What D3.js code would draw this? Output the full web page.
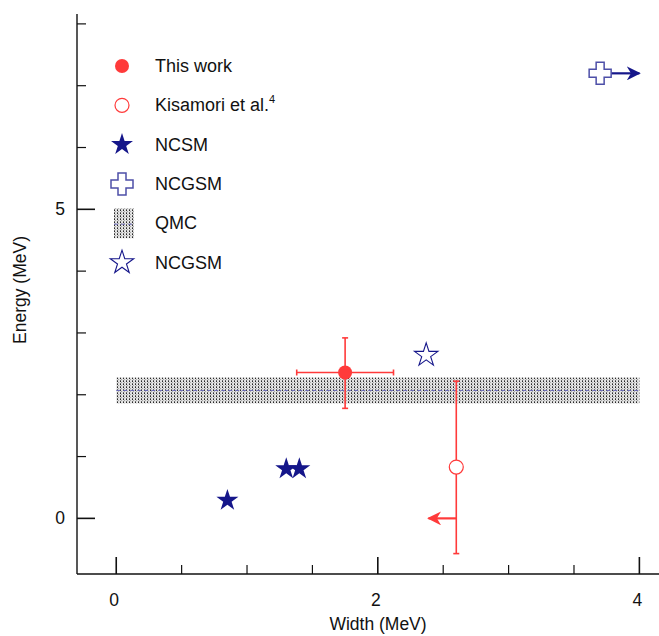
<!DOCTYPE html>
<meta charset="utf-8">
<script src="https://d3js.org/d3.v7.min.js"></script>
<style>
  body { margin: 0; background: #fff; }
  text { font-family: "Liberation Sans", Arial, sans-serif; fill: #111; }
</style>
<body>
<script>
// Chart data
const thisWork = [{w: 1.75, e: 2.36, wLo: 1.38, wHi: 2.12, eLo: 1.78, eHi: 2.92}];
const kisamori = [{w: 2.60, e: 0.83, eLo: -0.57, eHi: 2.22, wLimit: 2.38, limitE: 0}];
const ncsm = [{w: 0.85, e: 0.29}, {w: 1.30, e: 0.80}, {w: 1.40, e: 0.80}];
const ncgsmCross = [{w: 3.70, e: 7.20, wArrow: 4.0}];
const qmc = [{wFrom: 0, wTo: 4, eLo: 1.86, eHi: 2.28, eMid: 2.07}];
const ncgsmStar = [{w: 2.37, e: 2.64}];
const xMajor = [0, 2, 4];
const xMinor = [0.5, 1, 1.5, 2.5, 3, 3.5];
const yMajor = [0, 5];
const yMinor = [1, 2, 3, 4, 6, 7, 8];
const legendLabels = ["This work", "Kisamori et al.", "NCSM", "NCGSM", "QMC", "NCGSM"];

const W = 659, H = 636;
const red = "#ff3a3a", navy = "#15168a", lightNavy = "#4d4fa8";
const fs = "17.5px";

const svg = d3.select("body").append("svg").attr("width", W).attr("height", H);

// Scales
const x = d3.scaleLinear().domain([-0.3, 4.15]).range([77, 659]);
const y = d3.scaleLinear().domain([-0.9, 8.16]).range([574, 14]);

// Pattern for QMC band
const defs = svg.append("defs");
const pat = defs.append("pattern").attr("id", "dots")
  .attr("width", 3).attr("height", 3).attr("patternUnits", "userSpaceOnUse");
pat.append("rect").attr("width", 3).attr("height", 3).attr("fill", "#e2e2e2");
pat.append("rect").attr("width", 1).attr("height", 1).attr("fill", "#2a2a2a");
pat.append("rect").attr("x", 1).attr("y", 1).attr("width", 1).attr("height", 1).attr("fill", "#a8a8a8");
pat.append("rect").attr("x", 0).attr("y", 2).attr("width", 1).attr("height", 1).attr("fill", "#6a6a6a");

defs.append("marker").attr("id", "arrRed").attr("viewBox", "0 0 10 10")
  .attr("refX", 9).attr("refY", 5).attr("markerWidth", 14).attr("markerHeight", 14)
  .attr("markerUnits", "userSpaceOnUse").attr("orient", "auto")
  .append("path").attr("d", "M0,0 L10,5 L0,10 L3,5 Z").attr("fill", red);
defs.append("marker").attr("id", "arrNavy").attr("viewBox", "0 0 10 10")
  .attr("refX", 9).attr("refY", 5).attr("markerWidth", 14).attr("markerHeight", 14)
  .attr("markerUnits", "userSpaceOnUse").attr("orient", "auto")
  .append("path").attr("d", "M0,0 L10,5 L0,10 L3,5 Z").attr("fill", navy);

// Axes (ticks point inward)
const xAxis = svg.append("g").attr("transform", `translate(0,${y.range()[0]})`);
xAxis.append("line").attr("x1", x.range()[0]).attr("x2", x.range()[1]).attr("stroke", "#111").attr("stroke-width", 1.4);
xAxis.selectAll(".maj").data(xMajor).enter().append("line")
  .attr("x1", d => x(d)).attr("x2", d => x(d)).attr("y1", 0).attr("y2", -17)
  .attr("stroke", "#111").attr("stroke-width", 1.6);
xAxis.selectAll(".min").data(xMinor).enter().append("line")
  .attr("x1", d => x(d)).attr("x2", d => x(d)).attr("y1", 0).attr("y2", -9)
  .attr("stroke", "#111").attr("stroke-width", 1.2);
xAxis.selectAll("text").data(xMajor).enter().append("text")
  .attr("x", d => x(d) - 2).attr("y", 32).attr("text-anchor", "middle")
  .style("font-size", fs).text(d => d);

const yAxis = svg.append("g").attr("transform", `translate(${x.range()[0]},0)`);
yAxis.append("line").attr("y1", y.range()[0]).attr("y2", y.range()[1]).attr("stroke", "#111").attr("stroke-width", 1.4);
yAxis.selectAll(".maj").data(yMajor).enter().append("line")
  .attr("y1", d => y(d)).attr("y2", d => y(d)).attr("x1", 0).attr("x2", 18)
  .attr("stroke", "#111").attr("stroke-width", 1.6);
yAxis.selectAll(".min").data(yMinor).enter().append("line")
  .attr("y1", d => y(d)).attr("y2", d => y(d)).attr("x1", 0).attr("x2", 9)
  .attr("stroke", "#111").attr("stroke-width", 1.2);
yAxis.selectAll("text").data(yMajor).enter().append("text")
  .attr("x", -17).attr("y", d => y(d) + 6).attr("text-anchor", "middle")
  .style("font-size", fs).text(d => d);

svg.append("text").attr("x", 378).attr("y", 630).attr("text-anchor", "middle")
  .style("font-size", fs).text("Width (MeV)");
svg.append("text").attr("transform", "translate(26,290) rotate(-90)").attr("text-anchor", "middle")
  .style("font-size", fs).text("Energy (MeV)");

// QMC band
const band = svg.append("g");
qmc.forEach(d => {
  band.append("rect").attr("x", x(d.wFrom)).attr("width", x(d.wTo) - x(d.wFrom))
    .attr("y", y(d.eHi)).attr("height", y(d.eLo) - y(d.eHi)).attr("fill", "url(#dots)");
  band.append("line").attr("x1", x(d.wFrom)).attr("x2", x(d.wTo))
    .attr("y1", y(d.eMid)).attr("y2", y(d.eMid))
    .attr("stroke", "#6a6ab8").attr("stroke-width", 1).attr("stroke-dasharray", "4,3");
});

// Shapes
const starFilled = d3.symbol().type(d3.symbolStar).size(150);
const starOpen = d3.symbol().type(d3.symbolStar).size(170);
function crossPath(cx, cy, a, b) {
  // a: half of total width, b: half of arm thickness
  return `M${cx-b},${cy-a} H${cx+b} V${cy-b} H${cx+a} V${cy+b} H${cx+b} V${cy+a} H${cx-b} V${cy+b} H${cx-a} V${cy-b} H${cx-b} Z`;
}

// This work
thisWork.forEach(d => {
  const g = svg.append("g").attr("stroke", red).attr("stroke-width", 1.6);
  g.append("line").attr("x1", x(d.wLo)).attr("x2", x(d.wHi)).attr("y1", y(d.e)).attr("y2", y(d.e));
  g.append("line").attr("x1", x(d.w)).attr("x2", x(d.w)).attr("y1", y(d.eLo)).attr("y2", y(d.eHi));
  [[x(d.wLo), y(d.e), "v"], [x(d.wHi), y(d.e), "v"], [x(d.w), y(d.eLo), "h"], [x(d.w), y(d.eHi), "h"]].forEach(([px, py, o]) => {
    if (o === "v") g.append("line").attr("x1", px).attr("x2", px).attr("y1", py - 3).attr("y2", py + 3);
    else g.append("line").attr("x1", px - 3).attr("x2", px + 3).attr("y1", py).attr("y2", py);
  });
  svg.append("circle").attr("cx", x(d.w)).attr("cy", y(d.e)).attr("r", 7).attr("fill", red);
});

// Kisamori
kisamori.forEach(d => {
  const g = svg.append("g").attr("stroke", red).attr("stroke-width", 1.6);
  g.append("line").attr("x1", x(d.w)).attr("x2", x(d.w)).attr("y1", y(d.eLo)).attr("y2", y(d.eHi));
  g.append("line").attr("x1", x(d.w) - 3).attr("x2", x(d.w) + 3).attr("y1", y(d.eLo)).attr("y2", y(d.eLo));
  g.append("line").attr("x1", x(d.w) - 3).attr("x2", x(d.w) + 3).attr("y1", y(d.eHi)).attr("y2", y(d.eHi));
  g.append("line").attr("x1", x(d.w)).attr("x2", x(d.wLimit) + 1)
    .attr("y1", y(d.limitE)).attr("y2", y(d.limitE)).attr("stroke-width", 2.2)
    .attr("marker-end", "url(#arrRed)");
  svg.append("circle").attr("cx", x(d.w)).attr("cy", y(d.e)).attr("r", 7)
    .attr("fill", "#fff").attr("stroke", red).attr("stroke-width", 1.2);
});

// NCSM stars
svg.selectAll(".ncsm").data(ncsm).enter().append("path")
  .attr("d", starFilled).attr("transform", d => `translate(${x(d.w)},${y(d.e)})`)
  .attr("fill", navy);

// NCGSM open star
svg.selectAll(".ncgsmStar").data(ncgsmStar).enter().append("path")
  .attr("d", starOpen).attr("transform", d => `translate(${x(d.w)},${y(d.e)})`)
  .attr("fill", "none").attr("stroke", navy).attr("stroke-width", 1.1);

// NCGSM cross with arrow
ncgsmCross.forEach(d => {
  svg.append("line").attr("x1", x(d.w) + 11).attr("x2", x(d.wArrow))
    .attr("y1", y(d.e)).attr("y2", y(d.e)).attr("stroke", navy).attr("stroke-width", 2.2)
    .attr("marker-end", "url(#arrNavy)");
  svg.append("path").attr("d", crossPath(x(d.w), y(d.e), 11, 4))
    .attr("fill", "#fff").attr("stroke", lightNavy).attr("stroke-width", 1.5);
});

// Legend
const lg = svg.append("g");
const rowY = i => 66 + i * 39.3;
const mx = 122, tx = 155;
lg.append("circle").attr("cx", mx).attr("cy", rowY(0)).attr("r", 7).attr("fill", red);
lg.append("circle").attr("cx", mx).attr("cy", rowY(1)).attr("r", 7).attr("fill", "#fff").attr("stroke", red).attr("stroke-width", 1.2);
lg.append("path").attr("d", starFilled).attr("transform", `translate(${mx},${rowY(2)})`).attr("fill", navy);
lg.append("path").attr("d", crossPath(mx, rowY(3), 11, 4)).attr("fill", "#fff").attr("stroke", lightNavy).attr("stroke-width", 1.5);
lg.append("rect").attr("x", mx - 8).attr("y", rowY(4) - 15).attr("width", 20).attr("height", 30).attr("fill", "url(#dots)");
lg.append("line").attr("x1", mx - 8).attr("x2", mx + 12).attr("y1", rowY(4) + 1).attr("y2", rowY(4) + 1)
  .attr("stroke", "#6a6ab8").attr("stroke-width", 1).attr("stroke-dasharray", "4,3");
lg.append("path").attr("d", starOpen).attr("transform", `translate(${mx},${rowY(5)})`)
  .attr("fill", "none").attr("stroke", navy).attr("stroke-width", 1.1);

legendLabels.forEach((t, i) => {
  const tt = lg.append("text").attr("x", tx).attr("y", rowY(i) + 6).style("font-size", "18px").text(t);
  if (i === 1) tt.append("tspan").attr("dy", -8).style("font-size", "11px").text("4");
});
</script>
</body>
</html>
